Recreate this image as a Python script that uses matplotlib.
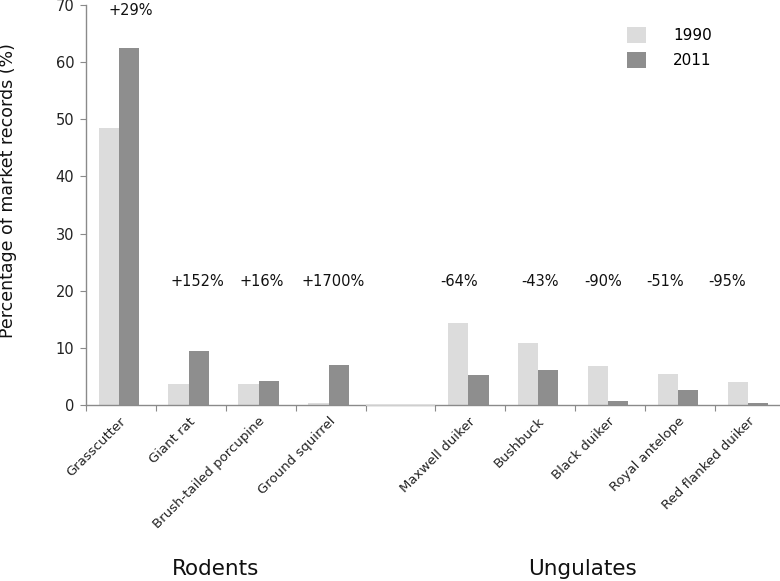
import numpy as np
import matplotlib
matplotlib.use("Agg")
import matplotlib.pyplot as plt
import matplotlib.transforms as mtransforms

plt.rcParams["font.family"] = ["DejaVu Sans"]

# data
species = ["Grasscutter", "Giant rat", "Brush-tailed porcupine", "Ground squirrel",
           "Maxwell duiker", "Bushbuck", "Black duiker", "Royal antelope", "Red flanked duiker"]
pct_1990 = [48.4, 3.7, 3.7, 0.35, 14.4, 10.8, 6.9, 5.5, 4.1]
pct_2011 = [62.5, 9.5, 4.25, 7.0, 5.2, 6.1, 0.7, 2.7, 0.3]
change_labels = ["+29%", "+152%", "+16%", "+1700%", "-64%", "-43%", "-90%", "-51%", "-95%"]
groups = ["Rodents", "Ungulates"]

light = "#dcdcdc"
dark = "#8e8e8e"
axis_col = "#8a8a8a"

# rodents at 0-3, empty slot at 4, ungulates at 5-9
pos = np.array([0, 1, 2, 3, 5, 6, 7, 8, 9], dtype=float)
w = 0.29

fig = plt.figure(figsize=(7.8, 5.81), dpi=100)
ax = fig.add_axes([86 / 780, 1 - 405 / 581, 694 / 780, 400 / 581])

ax.bar(pos - w / 2, pct_1990, width=w, color=light, label="1990", zorder=2)
ax.bar(pos + w / 2, pct_2011, width=w, color=dark, label="2011", zorder=2)

ax.set_ylim(0, 70)
ax.set_xlim(-0.47, 9.46)
ax.set_yticks(range(0, 71, 10))

for s in ["top", "right"]:
    ax.spines[s].set_visible(False)
for s in ["left", "bottom"]:
    ax.spines[s].set_color(axis_col)
    ax.spines[s].set_linewidth(1.0)

# boundaries get the tick marks, centres get the labels
ax.set_xticks(np.arange(-1, 9) + 0.53)
ax.set_xticklabels([])
ax.set_xticks(pos, minor=True)
ax.set_xticklabels(species, minor=True, rotation=45, ha="right",
                   rotation_mode="anchor", fontsize=9.5, color="#222222")
ax.tick_params(axis="x", which="major", length=4, color=axis_col, direction="out")
ax.tick_params(axis="x", which="minor", length=0, pad=7)
ax.tick_params(axis="y", length=4.5, color=axis_col, labelsize=10.5, pad=4,
               labelcolor="#222222")

# lighter axis segment under the empty slot
ax.hlines(0, 3.53, 4.53, color="#dedede", lw=1.2, zorder=3, clip_on=False)

ax.set_ylabel("Percentage of market records (%)", fontsize=12.5, color="#111111")
ax.yaxis.set_label_coords(-0.099, 0.535)

shift = [0.17, 0.12, 0.04, 0.06, -0.13, 0.03, -0.07, -0.19, -0.3]
ys = [69.1] + [21.7] * 8
for x, y, t, dx in zip(pos, ys, change_labels, shift):
    ax.text(x + dx, y, t, ha="center", va="center", fontsize=10.5, color="#111111")

trans = mtransforms.blended_transform_factory(ax.transData, ax.transAxes)
ax.text(1.39, -0.41, groups[0], transform=trans, ha="center", va="center",
        fontsize=15.5, color="#111111")
ax.text(6.64, -0.41, groups[1], transform=trans, ha="center", va="center",
        fontsize=15.5, color="#111111")

ax.legend(loc="upper left", bbox_to_anchor=(0.78, 0.945), frameon=False,
          fontsize=11, handlelength=1.25, handleheight=1.2, handletextpad=1.75,
          labelspacing=0.6, borderpad=0, borderaxespad=0)

fig.savefig("out.png", dpi=100)
